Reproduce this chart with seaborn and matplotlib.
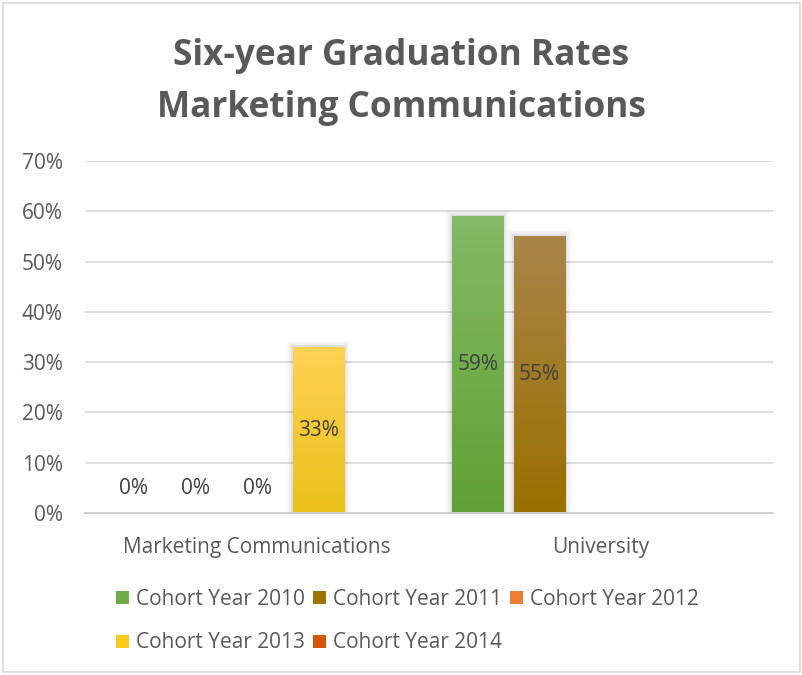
import numpy as np
import pandas as pd
import matplotlib
matplotlib.use("Agg")
import matplotlib.pyplot as plt
import matplotlib.patheffects as pe
from matplotlib.patches import Patch, Rectangle
from matplotlib.colors import to_rgb
import seaborn as sns

categories = ["Marketing Communications", "University"]
cohorts = ["Cohort Year 2010", "Cohort Year 2011", "Cohort Year 2012",
           "Cohort Year 2013", "Cohort Year 2014"]
rate_2010 = [0, 59]
rate_2011 = [0, 55]
rate_2012 = [0, np.nan]
rate_2013 = [33, np.nan]
rate_2014 = [np.nan, np.nan]
y_ticks = [0, 10, 20, 30, 40, 50, 60, 70]
title_lines = ["Six-year Graduation Rates", "Marketing Communications"]

colors = ["#70AD47", "#9E7400", "#ED7D31", "#FFC91A", "#D2560B"]
top_colors = ["#83BA66", "#A98549", "#F4873F", "#FFD254", "#D86A2A"]
bot_colors = ["#61A034", "#9A7000", "#E8702A", "#EBC11A", "#CC5200"]

rows = []
for coh, vals in zip(cohorts, [rate_2010, rate_2011, rate_2012, rate_2013, rate_2014]):
    for cat, v in zip(categories, vals):
        rows.append({"category": cat, "cohort": coh, "rate": v})
df = pd.DataFrame(rows).dropna()

sns.set_theme(style="white")
plt.rcParams["font.family"] = ["Open Sans", "DejaVu Sans"]
grey = "#595959"
fs = 15

fig = plt.figure(figsize=(8.03, 6.75), dpi=100)
ax = fig.add_axes([85 / 803, 162 / 675, 688 / 803, 352 / 675])

sns.barplot(data=df, x="category", y="rate", hue="cohort", order=categories,
            hue_order=cohorts, palette=dict(zip(cohorts, colors)),
            width=0.895, gap=0.17, errorbar=None, legend=False, ax=ax,
            linewidth=0, saturation=1)

ax.set_xlim(-0.5, 1.5)
ax.set_ylim(0, 70)
ax.set_yticks(y_ticks)
ax.set_yticklabels([f"{t}%" for t in y_ticks])
ax.yaxis.grid(True, color="#D9D9D9", linewidth=1.2)
ax.set_axisbelow(True)
for s in ["left", "right", "top"]:
    ax.spines[s].set_visible(False)
ax.spines["bottom"].set_color("#D0D0D0")
ax.spines["bottom"].set_linewidth(1.4)
ax.tick_params(axis="y", length=0, pad=16, labelsize=fs, labelcolor=grey)
ax.tick_params(axis="x", length=0, pad=17, labelsize=fs, labelcolor=grey)
ax.set_xlabel("")
ax.set_ylabel("")

bars = list(ax.patches)
hex_by_color = {tuple(np.round(to_rgb(c), 3)): i for i, c in enumerate(colors)}
for p in bars:
    h = p.get_height()
    if not np.isfinite(h):
        continue
    x0, w = p.get_x(), p.get_width()
    xc = x0 + w / 2
    if h > 0:
        idx = hex_by_color.get(tuple(np.round(p.get_facecolor()[:3], 3)), 0)
        p.set_path_effects([
            pe.Stroke(linewidth=9, foreground="black", alpha=0.025),
            pe.Stroke(linewidth=6, foreground="black", alpha=0.04),
            pe.Stroke(linewidth=3, foreground="black", alpha=0.06),
            pe.Normal()])
        t = np.array(to_rgb(top_colors[idx]))
        b = np.array(to_rgb(bot_colors[idx]))
        f = np.linspace(0, 1, 100)[:, None]
        grad = (t * (1 - f) + b * f)[:, None, :]
        im = ax.imshow(grad, extent=[x0, x0 + w, 0, h], aspect="auto",
                       origin="upper", zorder=p.get_zorder() + 0.1,
                       interpolation="bilinear")
        im.set_clip_path(p)
        ax.text(xc, h / 2, f"{h:.0f}%", ha="center", va="center",
                fontsize=fs, color="#404040", zorder=5)
    else:
        ax.text(xc, 0, f"{h:.0f}%", ha="center", va="center", fontsize=fs,
                color="#404040", zorder=5,
                transform=ax.transData + matplotlib.transforms.ScaledTranslation(0, 25 / 100, fig.dpi_scale_trans))

ax.set_xlim(-0.5, 1.5)
ax.set_ylim(0, 70)

for line, base in zip(title_lines, [65, 117]):
    fig.text(0.5, 1 - base / 675, line, ha="center", va="baseline",
             fontsize=25.4, fontweight="bold", color=grey,
             family=["Open Sans", "DejaVu Sans"])

handles = [Patch(facecolor=c, edgecolor="none") for c in colors]
order = [0, 3, 1, 4, 2]
leg = fig.legend([handles[i] for i in order], [cohorts[i] for i in order],
                 ncol=3, loc="upper left", bbox_to_anchor=(116 / 803, 1 - 589 / 675),
                 frameon=False, fontsize=fs, handlelength=0.6, handleheight=0.6,
                 handletextpad=0.35, columnspacing=0.4, labelspacing=1.08,
                 borderpad=0, borderaxespad=0)
for txt in leg.get_texts():
    txt.set_color(grey)

fig.patches.append(Rectangle((3 / 803, 3 / 675), 797 / 803, 669 / 675,
                             transform=fig.transFigure, fill=False,
                             edgecolor="#D9D9D9", linewidth=1.2))

fig.savefig("out.png", dpi=100)
